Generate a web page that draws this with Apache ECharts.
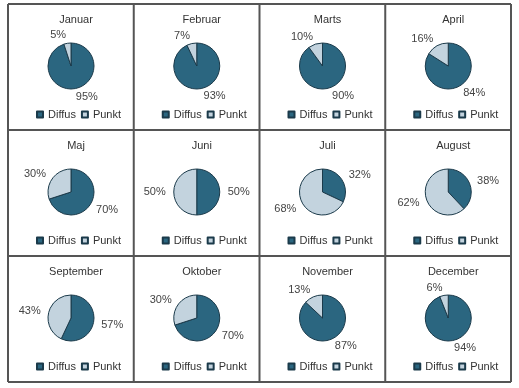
<!DOCTYPE html>
<html>
<head>
<meta charset="utf-8">
<script src="https://cdn.jsdelivr.net/npm/echarts@6/dist/echarts.min.js"></script>
<style>
html,body{margin:0;padding:0;background:#fff;}
#c{width:519px;height:388px;}
</style>
</head>
<body>
<div id="c"></div>
<script>
const months = ['Januar','Februar','Marts','April','Maj','Juni','Juli','August','September','Oktober','November','December'];
const seriesNames = ['Diffus','Punkt'];
const diffus = [95,93,90,84,70,50,32,38,57,70,87,94];
const punkt = [5,7,10,16,30,50,68,62,43,30,13,6];

const colors = ['#2b6680','#c3d3de'];
const X0 = 8, Y0 = 4, CW = 125.75, CH = 126;
const chart = echarts.init(document.getElementById('c'));
const titles = [], legends = [], series = [], graphics = [];
months.forEach((m, i) => {
  const c = i % 4, r = Math.floor(i / 4);
  const x = X0 + c * CW, y = Y0 + r * CH;
  titles.push({text: m, left: x + 63, top: y + 5, textAlign: 'center',
    textStyle: {fontSize: 11, fontWeight: 'normal', color: '#333', fontFamily: 'Liberation Sans, Arial'}});
  legends.push({data: seriesNames, left: x + 23, top: y + 100, itemWidth: 6, itemHeight: 6, itemGap: 5,
    icon: 'rect', selectedMode: false,
    textStyle: {fontSize: 11, color: '#333', fontFamily: 'Liberation Sans, Arial'}});
  series.push({
    type: 'pie', center: [x + 63, y + 62], radius: 23, startAngle: 90, clockwise: true,
    animation: false, silent: true,
    itemStyle: {borderColor: '#1b3a4a', borderWidth: 1},
    label: {show: true, position: 'outside', formatter: '{c}%', fontSize: 11, color: '#444',
      fontFamily: 'Liberation Sans, Arial', distanceToLabelLine: 0},
    labelLine: {show: false, length: 8, length2: 0},
    data: [
      {name: seriesNames[0], value: diffus[i], itemStyle: {color: colors[0]}},
      {name: seriesNames[1], value: punkt[i], itemStyle: {color: colors[1]}}
    ]
  });
});
for (let c = 0; c <= 4; c++) {
  graphics.push({type: 'line', shape: {x1: X0 + c * CW, y1: Y0, x2: X0 + c * CW, y2: Y0 + 3 * CH},
    style: {stroke: '#555', lineWidth: 2}});
}
for (let r = 0; r <= 3; r++) {
  graphics.push({type: 'line', shape: {x1: X0, y1: Y0 + r * CH, x2: X0 + 4 * CW, y2: Y0 + r * CH},
    style: {stroke: '#555', lineWidth: 2}});
}
chart.setOption({
  animation: false,
  color: colors,
  title: titles,
  legend: legends,
  series: series,
  graphic: graphics
});
</script>
</body>
</html>
